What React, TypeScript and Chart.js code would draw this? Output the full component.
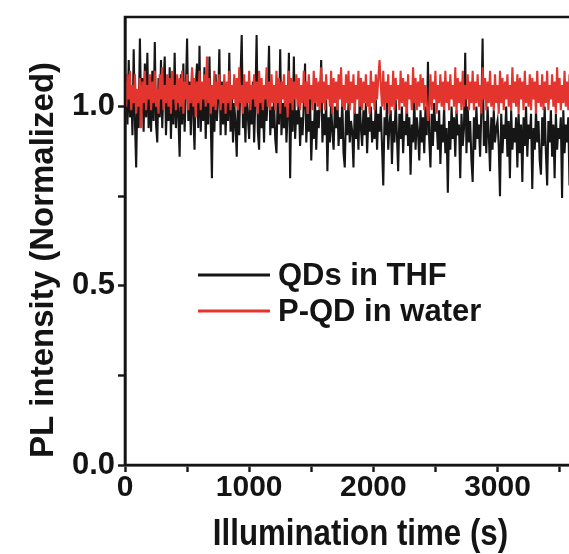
import React, { useEffect, useRef } from 'react';
import { Chart, registerables } from 'chart.js';

Chart.register(...registerables);

// ---- data ----
const SAMPLE_STEP_S = 10; // sampling interval of the traces, seconds

const QDS_IN_THF = [
  0.99, 1.09, 0.95, 1.13, 0.97, 1.06, 0.92, 1.16, 0.96, 0.83,
  1.04, 0.94, 1.19, 0.98, 1.08, 0.93, 1.12, 0.97, 1.15, 0.94,
  1.05, 0.93, 1.10, 0.96, 1.18, 0.95, 0.90, 1.08, 0.97, 1.13,
  0.94, 1.06, 1.14, 0.92, 1.03, 0.96, 1.11, 0.91, 1.07, 0.95,
  1.15, 0.94, 1.05, 0.97, 0.86, 1.09, 0.95, 1.12, 0.93, 1.04,
  1.19, 0.96, 1.07, 0.92, 1.10, 0.98, 0.88, 1.06, 1.12, 0.94,
  1.17, 0.93, 1.06, 0.96, 1.11, 0.91, 1.04, 0.95, 1.14, 0.97,
  0.80, 1.05, 0.93, 1.09, 0.96, 1.02, 1.16, 0.92, 1.07, 0.95,
  1.06, 0.92, 1.03, 0.96, 1.15, 0.93, 1.05, 0.90, 1.01, 0.95,
  0.86, 1.04, 0.92, 1.08, 1.20, 0.94, 1.02, 0.90, 1.06, 0.97,
  0.91, 1.04, 0.95, 1.07, 0.90, 1.02, 1.20, 0.93, 0.88, 1.05,
  0.94, 1.01, 0.90, 1.06, 0.96, 1.03, 1.17, 0.92, 1.00, 0.94,
  1.02, 0.91, 0.87, 1.04, 0.95, 1.16, 0.92, 1.01, 0.94, 1.05,
  0.90, 0.98, 1.15, 0.80, 1.03, 0.93, 1.14, 0.91, 0.99, 0.95,
  1.02, 0.89, 0.97, 0.92, 1.01, 1.12, 0.90, 0.98, 0.93, 1.03,
  0.85, 0.96, 0.91, 1.02, 0.88, 0.99, 0.94, 1.01, 1.13, 0.90,
  0.98, 0.92, 1.02, 0.82, 0.97, 0.90, 1.01, 0.93, 0.88, 1.00,
  0.94, 1.03, 0.89, 0.97, 0.91, 1.02, 0.87, 0.83, 0.99, 0.92,
  1.01, 0.90, 0.96, 0.93, 0.83, 1.00, 0.91, 0.98, 0.88, 1.02,
  0.94, 0.89, 0.99, 0.92, 1.01, 0.87, 0.97, 0.93, 1.00, 0.90,
  0.96, 0.91, 1.02, 0.88, 0.98, 0.93, 1.00, 0.89, 0.78, 0.97,
  0.92, 1.01, 0.88, 0.95, 0.99, 0.84, 0.96, 0.90, 1.02, 0.92,
  0.82, 0.98, 0.91, 1.00, 0.87, 0.96, 0.92, 1.01, 0.89, 0.97,
  0.81, 0.95, 0.90, 1.02, 0.88, 0.97, 0.93, 0.85, 0.99, 0.90,
  0.97, 0.87, 1.00, 0.92, 1.125, 0.91, 0.83, 0.98, 0.89, 1.01,
  0.93, 0.96, 0.88, 0.99, 0.84, 0.95, 0.90, 1.00, 0.87, 0.94,
  0.76, 0.96, 0.88, 1.00, 0.91, 0.97, 0.86, 0.99, 0.92, 0.95,
  0.80, 0.98, 0.89, 0.94, 1.15, 0.87, 1.00, 0.90, 0.96, 0.85,
  0.79, 0.97, 0.88, 1.00, 0.91, 0.95, 0.86, 0.99, 1.19, 0.89,
  0.96, 0.87, 1.00, 0.92, 0.82, 0.97, 0.88, 0.99, 0.90, 0.94,
  0.96, 0.89, 0.75, 0.98, 0.87, 0.95, 0.91, 1.00, 0.86, 0.96,
  0.80, 0.99, 0.88, 0.94, 0.90, 0.97, 0.83, 0.98, 0.87, 0.95,
  0.79, 0.97, 0.89, 1.00, 0.86, 0.95, 0.91, 0.98, 0.77, 0.94,
  0.88, 0.99, 0.90, 0.96, 0.85, 0.81, 0.97, 0.89, 1.00, 0.87,
  0.78, 0.96, 0.90, 0.99, 0.86, 0.95, 0.80, 0.98, 0.88, 0.94,
  0.91, 0.97, 0.745, 0.99, 0.87, 0.95, 0.90, 0.97, 0.78, 0.93,
  0.96,
];

const PQD_IN_WATER = [
  1.07, 1.00, 1.09, 1.02, 1.10, 0.99, 1.06, 1.01, 1.09, 0.98,
  1.05, 1.00, 1.08, 0.94, 1.07, 1.01, 1.10, 0.99, 1.06, 1.02,
  1.09, 0.99, 1.07, 1.01, 1.10, 1.00, 1.05, 0.98, 1.09, 1.02,
  1.11, 0.99, 1.06, 1.01, 1.09, 1.00, 1.08, 0.98, 1.10, 1.02,
  1.06, 0.99, 1.09, 1.01, 1.08, 1.00, 1.10, 0.98, 1.07, 1.02,
  1.09, 0.99, 1.06, 1.01, 1.11, 1.00, 1.08, 0.97, 1.07, 1.01,
  1.10, 0.99, 1.07, 1.02, 1.09, 1.00, 1.14, 1.01, 1.08, 0.98,
  1.06, 1.00, 1.10, 0.99, 1.07, 1.02, 1.09, 0.99, 1.06, 1.01,
  1.09, 0.98, 1.07, 1.01, 1.10, 0.99, 1.06, 1.02, 1.09, 1.00,
  1.08, 0.99, 1.11, 1.01, 1.06, 0.98, 1.09, 1.00, 1.07, 1.01,
  1.10, 0.99, 1.06, 1.02, 1.09, 1.00, 1.07, 0.98, 1.10, 1.01,
  1.08, 0.99, 1.06, 1.02, 1.11, 1.00, 1.07, 0.99, 1.09, 1.01,
  1.06, 0.99, 1.10, 1.01, 1.08, 0.98, 1.07, 1.02, 1.09, 1.00,
  1.06, 0.97, 1.10, 1.01, 1.08, 0.99, 1.07, 1.02, 1.09, 1.00,
  1.08, 0.99, 1.06, 1.01, 1.10, 1.00, 1.07, 0.98, 1.09, 1.02,
  1.06, 0.99, 1.10, 1.01, 1.08, 1.00, 1.07, 0.99, 1.11, 1.01,
  1.07, 0.99, 1.09, 1.02, 1.06, 1.00, 1.10, 0.98, 1.08, 1.01,
  1.07, 0.99, 1.09, 1.02, 1.11, 1.00, 1.06, 0.99, 1.09, 1.01,
  1.10, 0.99, 1.07, 1.01, 1.09, 0.98, 1.06, 1.02, 1.10, 1.00,
  1.08, 0.99, 1.07, 1.01, 1.09, 1.00, 1.06, 0.98, 1.10, 1.01,
  1.07, 0.99, 1.09, 1.02, 1.08, 1.13, 1.06, 1.00, 1.10, 0.99,
  1.07, 1.01, 1.09, 0.98, 1.06, 1.00, 1.10, 0.99, 1.08, 1.02,
  1.06, 0.99, 1.10, 1.01, 1.08, 1.00, 1.07, 0.98, 1.09, 1.02,
  1.06, 0.99, 1.11, 1.01, 1.08, 0.99, 1.07, 1.00, 1.09, 1.01,
  1.08, 0.99, 1.06, 1.01, 0.96, 1.00, 1.09, 0.99, 1.07, 1.02,
  1.10, 0.98, 1.06, 1.01, 1.09, 1.00, 1.07, 0.99, 1.10, 1.01,
  1.07, 0.99, 1.09, 1.02, 1.06, 1.00, 1.11, 0.98, 1.08, 1.01,
  1.07, 0.99, 1.10, 1.00, 1.06, 1.02, 1.09, 0.99, 1.07, 1.01,
  1.10, 0.99, 1.07, 1.01, 1.09, 1.00, 1.06, 0.98, 1.11, 1.02,
  1.08, 0.99, 1.07, 1.01, 1.10, 1.00, 1.06, 0.99, 1.09, 1.01,
  1.06, 0.98, 1.10, 1.01, 1.08, 0.99, 1.07, 1.02, 1.09, 1.00,
  1.06, 0.99, 1.11, 1.01, 1.07, 1.00, 1.09, 0.98, 1.08, 1.02,
  1.07, 0.99, 1.10, 1.01, 1.06, 1.00, 1.09, 0.99, 1.08, 1.02,
  1.07, 0.98, 1.10, 1.01, 1.06, 1.00, 1.09, 0.99, 1.07, 1.01,
  1.10, 0.99, 1.06, 1.02, 1.09, 1.00, 1.07, 0.98, 1.11, 1.01,
  1.08, 0.99, 1.06, 1.01, 1.10, 1.00, 1.07, 0.99, 1.09, 1.01,
  1.06,
];

const SERIES_LABELS = ['QDs in THF', 'P-QD in water'];
const SERIES_COLORS = ['#161616', '#e4342e'];

const X_MIN = 0;
const X_MAX = 3600;
const X_TICK_VALUES = [0, 500, 1000, 1500, 2000, 2500, 3000, 3500];
const X_TICK_LABELS = ['0', '', '1000', '', '2000', '', '3000', ''];
const Y_MIN = 0;
const Y_MAX = 1.25;
const Y_TICK_VALUES = [0, 0.25, 0.5, 0.75, 1.0];
const Y_TICK_LABELS = ['0.0', '', '0.5', '', '1.0'];

const X_TITLE = 'Illumination time (s)';
const Y_TITLE = 'PL intensity (Normalized)';

// ---- styling ----
const FONT_FAMILY = '"Liberation Sans", Arial, Helvetica, sans-serif';
const AXIS_COLOR = '#141414';
const TEXT_COLOR = '#141414';

const toPoints = (vals: number[]) =>
  vals.map((v, i) => ({ x: i * SAMPLE_STEP_S, y: v }));

const decorPlugin = {
  id: 'decor',
  afterDatasetsDraw(chart: any) {
    const { ctx, chartArea: a } = chart;
    ctx.save();
    // frame
    ctx.strokeStyle = AXIS_COLOR;
    ctx.lineWidth = 2.6;
    ctx.beginPath();
    ctx.rect(a.left, a.top, a.right - a.left, a.bottom - a.top);
    ctx.stroke();

    // legend (black first, then red)
    const order = [1, 0];
    order.forEach((dsIndex, row) => {
      const ds = chart.data.datasets[dsIndex];
      const y = 275 + row * 36;
      ctx.strokeStyle = ds.borderColor;
      ctx.lineWidth = 3;
      ctx.beginPath();
      ctx.moveTo(198, y);
      ctx.lineTo(270, y);
      ctx.stroke();
      ctx.fillStyle = TEXT_COLOR;
      ctx.font = `bold 31px ${FONT_FAMILY}`;
      ctx.textAlign = 'left';
      ctx.textBaseline = 'middle';
      ctx.fillText(ds.label, 278, y + 1);
    });

    // x title (narrow bold face)
    ctx.fillStyle = TEXT_COLOR;
    ctx.save();
    ctx.translate(360.5, 545);
    ctx.scale(0.845, 1);
    ctx.font = `bold 37px ${FONT_FAMILY}`;
    ctx.textAlign = 'center';
    ctx.textBaseline = 'alphabetic';
    ctx.fillText(X_TITLE, 0, 0);
    ctx.restore();

    // y title
    ctx.save();
    ctx.translate(44, 260);
    ctx.rotate(-Math.PI / 2);
    ctx.font = `bold 33px ${FONT_FAMILY}`;
    ctx.textAlign = 'center';
    ctx.textBaseline = 'middle';
    ctx.fillText(Y_TITLE, 0, 0);
    ctx.restore();

    ctx.restore();
  },
};

export default function App() {
  const canvasRef = useRef<HTMLCanvasElement | null>(null);

  useEffect(() => {
    const canvas = canvasRef.current;
    if (!canvas) return;
    const chart = new Chart(canvas, {
      type: 'line',
      data: {
        datasets: [
          {
            label: SERIES_LABELS[1],
            data: toPoints(PQD_IN_WATER),
            borderColor: SERIES_COLORS[1],
            borderWidth: 2.1,
            pointRadius: 0,
            tension: 0,
            order: 0,
          },
          {
            label: SERIES_LABELS[0],
            data: toPoints(QDS_IN_THF),
            borderColor: SERIES_COLORS[0],
            borderWidth: 2.1,
            pointRadius: 0,
            tension: 0,
            order: 1,
          },
        ],
      },
      options: {
        animation: false,
        responsive: false,
        devicePixelRatio: 1,
        layout: { padding: { top: 17, left: 0, right: 0, bottom: 0 } },
        plugins: {
          legend: { display: false },
          tooltip: { enabled: false },
        },
        scales: {
          x: {
            type: 'linear',
            min: X_MIN,
            max: X_MAX,
            afterBuildTicks: (s: any) => {
              s.ticks = X_TICK_VALUES.map((v) => ({ value: v }));
            },
            afterFit: (s: any) => {
              s.height = 89;
              s.paddingLeft = 0;
              s.paddingRight = 0;
            },
            ticks: {
              autoSkip: false,
              maxRotation: 0,
              minRotation: 0,
              padding: -2,
              color: TEXT_COLOR,
              font: { family: FONT_FAMILY, size: 30, weight: 'bold' },
              callback: (v: any) => {
                const i = X_TICK_VALUES.indexOf(Number(v));
                return i >= 0 ? X_TICK_LABELS[i] : '';
              },
            },
            grid: {
              drawOnChartArea: false,
              drawTicks: true,
              tickLength: 7,
              tickWidth: 2.4,
              tickColor: AXIS_COLOR,
            },
            border: { display: true, color: AXIS_COLOR, width: 2.6 },
          },
          y: {
            type: 'linear',
            min: Y_MIN,
            max: Y_MAX,
            afterBuildTicks: (s: any) => {
              s.ticks = Y_TICK_VALUES.map((v) => ({ value: v }));
            },
            afterFit: (s: any) => {
              s.width = 125;
              s.paddingTop = 0;
              s.paddingBottom = 0;
            },
            ticks: {
              autoSkip: false,
              padding: 3,
              color: TEXT_COLOR,
              font: { family: FONT_FAMILY, size: 31, weight: 'bold' },
              callback: (v: any) => {
                const i = Y_TICK_VALUES.findIndex((t) => Math.abs(t - Number(v)) < 1e-9);
                return i >= 0 ? Y_TICK_LABELS[i] : '';
              },
            },
            grid: {
              drawOnChartArea: false,
              drawTicks: true,
              tickLength: 7,
              tickWidth: 2.4,
              tickColor: AXIS_COLOR,
            },
            border: { display: true, color: AXIS_COLOR, width: 2.6 },
          },
        },
      },
      plugins: [decorPlugin],
    } as any);
    return () => chart.destroy();
  }, []);

  return (
    <div
      style={{
        position: 'fixed',
        left: 0,
        top: 0,
        width: 569,
        height: 554,
        overflow: 'hidden',
        background: '#ffffff',
      }}
    >
      <canvas ref={canvasRef} width={572} height={554} style={{ display: 'block' }} />
    </div>
  );
}
